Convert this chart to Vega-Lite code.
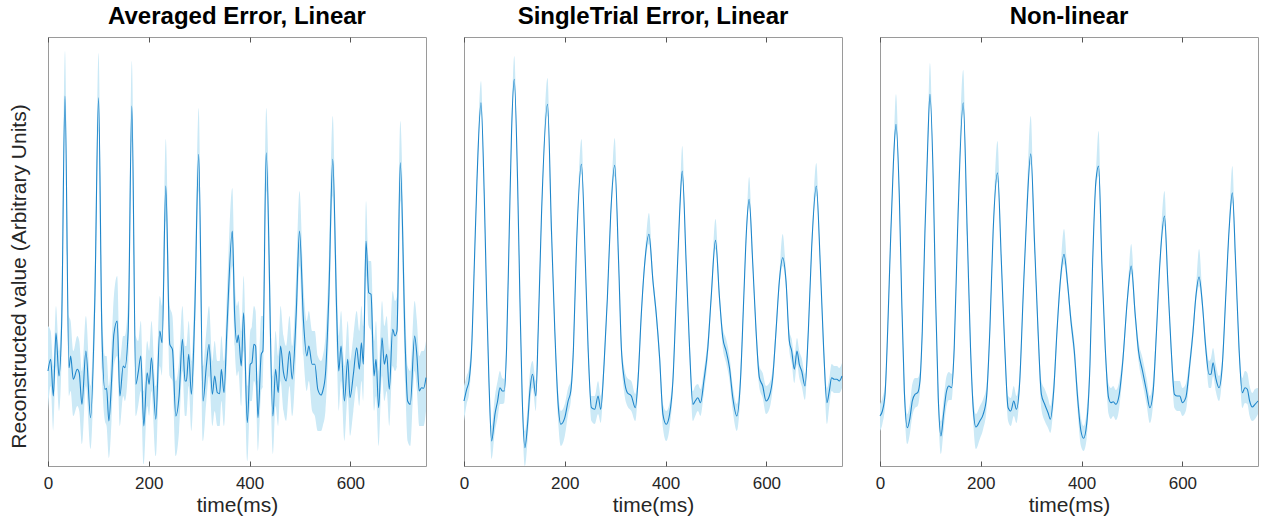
{
"$schema":"https://vega.github.io/schema/vega-lite/v6.json",
"background":"white",
"padding":{"left":7,"top":4,"right":0,"bottom":0},
"bounds":"flush",
"spacing":38,
"config":{"font":"Liberation Sans","view":{"stroke":"#9a9a9a","strokeWidth":1},
"title":{"fontSize":24,"fontWeight":"bold","color":"#000000","offset":8,"anchor":"middle"}},
"datasets":{
"p1":[
{"t":0,"y":95,"lo":55,"hi":140},{"t":5.3,"y":106.7,"lo":80,"hi":135},{"t":10.6,"y":70,"lo":35,"hi":100},{"t":15.8,"y":133,"lo":100,"hi":160},{"t":21.8,"y":90,"lo":55,"hi":115},{"t":27.1,"y":141.7,"lo":110,"hi":175},{"t":33.7,"y":370,"lo":340,"hi":415},{"t":41.6,"y":98.3,"lo":70,"hi":150},{"t":44.9,"y":110,"lo":75,"hi":145},{"t":50.2,"y":86.7,"lo":50,"hi":115},{"t":58.1,"y":96.7,"lo":60,"hi":130},{"t":62,"y":93,"lo":55,"hi":125},{"t":67.3,"y":61.7,"lo":22,"hi":95},{"t":75.2,"y":115,"lo":80,"hi":150},{"t":84.5,"y":48.3,"lo":17,"hi":80},{"t":93,"y":168,"lo":135,"hi":200},{"t":100.3,"y":368.3,"lo":335,"hi":413},{"t":106.9,"y":135,"lo":95,"hi":165},{"t":112.9,"y":76.7,"lo":45,"hi":110},{"t":116.2,"y":77.7,"lo":40,"hi":110},{"t":120.8,"y":45,"lo":8,"hi":80},{"t":126.1,"y":85,"lo":45,"hi":120},{"t":130.7,"y":131.7,"lo":100,"hi":170},{"t":137.3,"y":145,"lo":110,"hi":190},{"t":142.6,"y":70,"lo":40,"hi":105},{"t":149.2,"y":100,"lo":70,"hi":130},{"t":152.5,"y":98.3,"lo":65,"hi":130},{"t":159.1,"y":135,"lo":100,"hi":170},{"t":166.3,"y":360,"lo":325,"hi":405},{"t":174.3,"y":81.7,"lo":50,"hi":130},{"t":178.9,"y":93.3,"lo":60,"hi":125},{"t":184.2,"y":110,"lo":75,"hi":145},{"t":190.1,"y":40,"lo":2,"hi":75},{"t":196.7,"y":93.3,"lo":60,"hi":125},{"t":200.7,"y":81.7,"lo":50,"hi":115},{"t":205.3,"y":108.3,"lo":75,"hi":145},{"t":213.9,"y":46.7,"lo":10,"hi":80},{"t":221.8,"y":135,"lo":100,"hi":170},{"t":226.4,"y":123.3,"lo":90,"hi":160},{"t":233.7,"y":280,"lo":245,"hi":327},{"t":241.6,"y":121.7,"lo":90,"hi":160},{"t":246.9,"y":116.7,"lo":85,"hi":150},{"t":253.5,"y":50,"lo":10,"hi":85},{"t":260.1,"y":70,"lo":35,"hi":105},{"t":266.7,"y":126.7,"lo":95,"hi":160},{"t":271.9,"y":85,"lo":50,"hi":120},{"t":274.6,"y":85,"lo":50,"hi":120},{"t":279.2,"y":111.7,"lo":80,"hi":145},{"t":284.5,"y":71.7,"lo":35,"hi":105},{"t":291.1,"y":151.7,"lo":115,"hi":185},{"t":299,"y":311.7,"lo":275,"hi":358},{"t":307.6,"y":65,"lo":25,"hi":100},{"t":314.2,"y":100,"lo":65,"hi":135},{"t":319.5,"y":121.7,"lo":90,"hi":160},{"t":326.1,"y":71.7,"lo":40,"hi":105},{"t":330.7,"y":90,"lo":55,"hi":125},{"t":336,"y":73.3,"lo":40,"hi":105},{"t":340.6,"y":72.3,"lo":40,"hi":105},{"t":343.9,"y":96.7,"lo":65,"hi":130},{"t":349.2,"y":73.3,"lo":40,"hi":105},{"t":355.1,"y":138.3,"lo":105,"hi":175},{"t":365.7,"y":235,"lo":200,"hi":278},{"t":370.3,"y":151.7,"lo":120,"hi":190},{"t":374.9,"y":123.3,"lo":90,"hi":160},{"t":377.6,"y":131,"lo":95,"hi":165},{"t":383.5,"y":100,"lo":60,"hi":135},{"t":388.1,"y":153.3,"lo":115,"hi":190},{"t":395.4,"y":43.3,"lo":5,"hi":80},{"t":401.3,"y":101.7,"lo":65,"hi":135},{"t":404.6,"y":103.3,"lo":65,"hi":140},{"t":408.6,"y":121.7,"lo":85,"hi":160},{"t":411.9,"y":120,"lo":80,"hi":155},{"t":416.5,"y":48.3,"lo":15,"hi":85},{"t":423.1,"y":111.7,"lo":75,"hi":150},{"t":426.4,"y":115,"lo":80,"hi":150},{"t":433,"y":313.3,"lo":275,"hi":358},{"t":446.2,"y":50,"lo":12,"hi":90},{"t":451.5,"y":96.7,"lo":60,"hi":135},{"t":456.8,"y":73.3,"lo":40,"hi":110},{"t":461.4,"y":120,"lo":85,"hi":160},{"t":467.3,"y":93.3,"lo":55,"hi":130},{"t":472.6,"y":85,"lo":45,"hi":120},{"t":479.2,"y":115,"lo":80,"hi":150},{"t":484.5,"y":86.7,"lo":50,"hi":120},{"t":492.4,"y":151.7,"lo":115,"hi":190},{"t":499,"y":235,"lo":200,"hi":275},{"t":506.9,"y":145,"lo":110,"hi":180},{"t":513.5,"y":110,"lo":75,"hi":145},{"t":517.5,"y":120,"lo":85,"hi":155},{"t":524.1,"y":101.7,"lo":55,"hi":135},{"t":529.4,"y":101.7,"lo":50,"hi":135},{"t":535.3,"y":76.7,"lo":35,"hi":110},{"t":541.9,"y":71,"lo":35,"hi":105},{"t":545.2,"y":75,"lo":40,"hi":110},{"t":550.5,"y":91.7,"lo":55,"hi":130},{"t":557.1,"y":168.3,"lo":130,"hi":205},{"t":565,"y":306.7,"lo":270,"hi":350},{"t":572.9,"y":151.7,"lo":115,"hi":190},{"t":576.9,"y":95,"lo":55,"hi":130},{"t":581.5,"y":120,"lo":85,"hi":155},{"t":588.1,"y":65,"lo":25,"hi":100},{"t":594.7,"y":106.7,"lo":70,"hi":145},{"t":599.3,"y":68.3,"lo":30,"hi":105},{"t":605.9,"y":91.7,"lo":55,"hi":130},{"t":612.5,"y":118.3,"lo":80,"hi":155},{"t":617.8,"y":96.7,"lo":60,"hi":135},{"t":621.8,"y":123.3,"lo":85,"hi":160},{"t":625.7,"y":101.7,"lo":65,"hi":140},{"t":631,"y":225,"lo":190,"hi":265},{"t":636.3,"y":173.3,"lo":140,"hi":205},{"t":640.9,"y":171.7,"lo":135,"hi":205},{"t":646.9,"y":90,"lo":55,"hi":125},{"t":650.8,"y":106.7,"lo":70,"hi":145},{"t":656.1,"y":58.3,"lo":20,"hi":95},{"t":662.7,"y":128.3,"lo":90,"hi":165},{"t":667.3,"y":101.7,"lo":65,"hi":140},{"t":672,"y":111.7,"lo":75,"hi":150},{"t":677.2,"y":76.7,"lo":40,"hi":115},{"t":683.8,"y":136.7,"lo":100,"hi":175},{"t":688.5,"y":130,"lo":95,"hi":165},{"t":692.4,"y":135,"lo":100,"hi":170},{"t":699,"y":303.3,"lo":265,"hi":345},{"t":708.9,"y":118.3,"lo":80,"hi":155},{"t":713.5,"y":65,"lo":25,"hi":100},{"t":718.8,"y":61.7,"lo":20,"hi":95},{"t":727.4,"y":130,"lo":95,"hi":165},{"t":732,"y":110,"lo":75,"hi":145},{"t":736.6,"y":75,"lo":40,"hi":110},{"t":741.3,"y":78.3,"lo":40,"hi":115},{"t":745.2,"y":77.7,"lo":40,"hi":115},{"t":750,"y":88.3,"lo":55,"hi":125}
],
"p2":[
{"t":0,"y":65,"lo":45,"hi":80},{"t":5.3,"y":76.7,"lo":62,"hi":90},{"t":9.9,"y":85,"lo":72,"hi":98},{"t":15.2,"y":118.3,"lo":108,"hi":128},{"t":20.5,"y":201.7,"lo":195,"hi":208},{"t":25.7,"y":285,"lo":279,"hi":291},{"t":33.7,"y":363.3,"lo":352,"hi":385},{"t":40.3,"y":268.3,"lo":262,"hi":275},{"t":44.9,"y":168.3,"lo":162,"hi":175},{"t":49.5,"y":85,"lo":75,"hi":95},{"t":54.8,"y":25,"lo":7,"hi":40},{"t":61.4,"y":51.7,"lo":35,"hi":70},{"t":66.7,"y":65,"lo":48,"hi":85},{"t":71.3,"y":78.3,"lo":62,"hi":95},{"t":75.9,"y":75,"lo":62,"hi":88},{"t":79.9,"y":75,"lo":63,"hi":87},{"t":84.5,"y":118.3,"lo":110,"hi":127},{"t":89.8,"y":235,"lo":229,"hi":241},{"t":94.4,"y":335,"lo":328,"hi":342},{"t":99.7,"y":386.7,"lo":376,"hi":410},{"t":106.3,"y":285,"lo":278,"hi":292},{"t":110.9,"y":168.3,"lo":161,"hi":175},{"t":115.5,"y":68.3,"lo":55,"hi":80},{"t":120.8,"y":18.3,"lo":0,"hi":35},{"t":126.1,"y":41.7,"lo":25,"hi":58},{"t":130.7,"y":75,"lo":60,"hi":93},{"t":136,"y":91.7,"lo":78,"hi":105},{"t":142.6,"y":70,"lo":55,"hi":85},{"t":147.2,"y":135,"lo":127,"hi":143},{"t":153.8,"y":251.7,"lo":245,"hi":258},{"t":165.7,"y":361.7,"lo":350,"hi":388},{"t":173.6,"y":235,"lo":228,"hi":242},{"t":180.2,"y":135,"lo":127,"hi":143},{"t":186.8,"y":61.7,"lo":45,"hi":75},{"t":192.1,"y":41.7,"lo":20,"hi":55},{"t":200,"y":48.3,"lo":30,"hi":62},{"t":206.6,"y":65,"lo":52,"hi":78},{"t":211.9,"y":75,"lo":65,"hi":86},{"t":217.2,"y":118.3,"lo":110,"hi":127},{"t":223.1,"y":218.3,"lo":212,"hi":225},{"t":233,"y":301.7,"lo":292,"hi":327},{"t":240.9,"y":201.7,"lo":195,"hi":208},{"t":246.2,"y":118.3,"lo":110,"hi":126},{"t":252.8,"y":58.3,"lo":45,"hi":70},{"t":259.4,"y":56.7,"lo":42,"hi":70},{"t":266,"y":70,"lo":52,"hi":85},{"t":271.3,"y":56.7,"lo":43,"hi":70},{"t":277.9,"y":101.7,"lo":92,"hi":110},{"t":284.5,"y":168.3,"lo":161,"hi":175},{"t":291.1,"y":251.7,"lo":245,"hi":258},{"t":299,"y":300.7,"lo":290,"hi":328},{"t":306.9,"y":201.7,"lo":195,"hi":208},{"t":312.2,"y":118.3,"lo":108,"hi":128},{"t":317.5,"y":88.3,"lo":75,"hi":100},{"t":324.1,"y":73.3,"lo":60,"hi":88},{"t":332,"y":70,"lo":55,"hi":85},{"t":339.9,"y":58.3,"lo":45,"hi":72},{"t":345.2,"y":85,"lo":75,"hi":95},{"t":351.8,"y":151.7,"lo":144,"hi":159},{"t":358.4,"y":201.7,"lo":195,"hi":208},{"t":367,"y":231.7,"lo":222,"hi":253},{"t":374.9,"y":185,"lo":178,"hi":192},{"t":381.5,"y":151.7,"lo":144,"hi":159},{"t":388.1,"y":108.3,"lo":98,"hi":118},{"t":394.7,"y":51.7,"lo":38,"hi":62},{"t":401.3,"y":41.7,"lo":25,"hi":55},{"t":407.9,"y":51.7,"lo":38,"hi":63},{"t":414.5,"y":85,"lo":75,"hi":95},{"t":421.1,"y":168.3,"lo":161,"hi":175},{"t":427.7,"y":251.7,"lo":245,"hi":258},{"t":433,"y":295,"lo":285,"hi":320},{"t":440.9,"y":201.7,"lo":195,"hi":208},{"t":447.5,"y":118.3,"lo":110,"hi":126},{"t":454.1,"y":61.7,"lo":45,"hi":75},{"t":458.8,"y":65,"lo":50,"hi":80},{"t":464,"y":68.3,"lo":55,"hi":82},{"t":469.3,"y":63.3,"lo":50,"hi":77},{"t":475.9,"y":85,"lo":73,"hi":96},{"t":483.8,"y":118.3,"lo":108,"hi":128},{"t":490.4,"y":168.3,"lo":161,"hi":175},{"t":499,"y":225.7,"lo":217,"hi":247},{"t":506.9,"y":168.3,"lo":161,"hi":175},{"t":513.5,"y":128.3,"lo":118,"hi":138},{"t":520.1,"y":115,"lo":103,"hi":127},{"t":526.7,"y":98.3,"lo":86,"hi":110},{"t":533.3,"y":68.3,"lo":55,"hi":80},{"t":541.3,"y":50,"lo":35,"hi":62},{"t":548.5,"y":85,"lo":72,"hi":97},{"t":555.1,"y":168.3,"lo":161,"hi":175},{"t":560.4,"y":235,"lo":229,"hi":241},{"t":565.7,"y":266.7,"lo":258,"hi":289},{"t":573,"y":201.7,"lo":195,"hi":208},{"t":579.5,"y":135,"lo":127,"hi":143},{"t":586.1,"y":88.3,"lo":78,"hi":100},{"t":592.7,"y":80,"lo":68,"hi":93},{"t":599.3,"y":65,"lo":52,"hi":80},{"t":605.9,"y":70,"lo":57,"hi":83},{"t":612.5,"y":88.3,"lo":78,"hi":98},{"t":619.1,"y":135,"lo":127,"hi":143},{"t":625.7,"y":185,"lo":178,"hi":192},{"t":632.3,"y":208.3,"lo":200,"hi":232},{"t":638.9,"y":185,"lo":177,"hi":193},{"t":645.5,"y":125,"lo":115,"hi":135},{"t":650.2,"y":115,"lo":103,"hi":127},{"t":655.4,"y":96.7,"lo":83,"hi":110},{"t":660.7,"y":115,"lo":102,"hi":128},{"t":665.3,"y":101.7,"lo":88,"hi":115},{"t":670,"y":95,"lo":80,"hi":108},{"t":676.6,"y":80,"lo":66,"hi":92},{"t":683.2,"y":135,"lo":127,"hi":143},{"t":689.8,"y":218.3,"lo":212,"hi":225},{"t":699,"y":280,"lo":270,"hi":303},{"t":706.9,"y":201.7,"lo":195,"hi":208},{"t":713.5,"y":118.3,"lo":108,"hi":128},{"t":720.1,"y":63.3,"lo":42,"hi":78},{"t":724.8,"y":75,"lo":60,"hi":88},{"t":729.4,"y":88.3,"lo":75,"hi":102},{"t":734.7,"y":86.7,"lo":73,"hi":100},{"t":739.9,"y":86.7,"lo":73,"hi":100},{"t":744.6,"y":85,"lo":73,"hi":98},{"t":750,"y":90,"lo":78,"hi":103}
],
"p3":[
{"t":0,"y":50,"lo":35,"hi":62},{"t":4.7,"y":55,"lo":42,"hi":68},{"t":10,"y":71.7,"lo":60,"hi":82},{"t":15.2,"y":135,"lo":128,"hi":142},{"t":20.5,"y":218.3,"lo":212,"hi":225},{"t":26.5,"y":301.7,"lo":295,"hi":308},{"t":31.7,"y":341.7,"lo":332,"hi":372},{"t":38.4,"y":268.3,"lo":262,"hi":275},{"t":43,"y":168.3,"lo":161,"hi":175},{"t":48.3,"y":75,"lo":63,"hi":87},{"t":54.2,"y":38.3,"lo":22,"hi":52},{"t":59.5,"y":48.3,"lo":33,"hi":63},{"t":64.1,"y":65,"lo":50,"hi":82},{"t":69.4,"y":71.7,"lo":58,"hi":88},{"t":74.7,"y":73.3,"lo":60,"hi":88},{"t":79.3,"y":85,"lo":75,"hi":95},{"t":83.9,"y":135,"lo":128,"hi":142},{"t":89.2,"y":235,"lo":229,"hi":241},{"t":94.5,"y":318.3,"lo":312,"hi":325},{"t":99.1,"y":371.7,"lo":362,"hi":403},{"t":105.7,"y":285,"lo":278,"hi":292},{"t":110.3,"y":168.3,"lo":161,"hi":175},{"t":115.6,"y":68.3,"lo":55,"hi":80},{"t":120.9,"y":30,"lo":12,"hi":45},{"t":126.1,"y":51.7,"lo":35,"hi":66},{"t":132.1,"y":75,"lo":60,"hi":90},{"t":136.7,"y":80,"lo":66,"hi":94},{"t":142,"y":78.3,"lo":66,"hi":92},{"t":147.3,"y":118.3,"lo":110,"hi":127},{"t":153.9,"y":235,"lo":229,"hi":241},{"t":165.1,"y":363.3,"lo":352,"hi":396},{"t":173,"y":235,"lo":228,"hi":242},{"t":179.6,"y":118.3,"lo":110,"hi":126},{"t":184.9,"y":58.3,"lo":45,"hi":70},{"t":190.2,"y":39,"lo":17,"hi":52},{"t":198.1,"y":45,"lo":27,"hi":60},{"t":204.7,"y":51.7,"lo":37,"hi":67},{"t":211.3,"y":68.3,"lo":56,"hi":80},{"t":217.9,"y":135,"lo":128,"hi":142},{"t":224.5,"y":235,"lo":229,"hi":241},{"t":233.1,"y":293.3,"lo":284,"hi":325},{"t":241,"y":201.7,"lo":195,"hi":208},{"t":247.6,"y":118.3,"lo":110,"hi":126},{"t":254.2,"y":58.3,"lo":45,"hi":70},{"t":259.5,"y":55,"lo":40,"hi":68},{"t":265.4,"y":65,"lo":50,"hi":80},{"t":270.7,"y":56.7,"lo":43,"hi":70},{"t":277.3,"y":85,"lo":75,"hi":95},{"t":283.9,"y":168.3,"lo":161,"hi":175},{"t":291.1,"y":251.7,"lo":245,"hi":258},{"t":299.1,"y":312.3,"lo":302,"hi":350},{"t":307,"y":218.3,"lo":211,"hi":225},{"t":313.6,"y":135,"lo":125,"hi":145},{"t":320.2,"y":71.7,"lo":57,"hi":85},{"t":326.8,"y":61.7,"lo":45,"hi":77},{"t":333.4,"y":53.3,"lo":38,"hi":68},{"t":338,"y":46.7,"lo":33,"hi":60},{"t":344.6,"y":75,"lo":63,"hi":87},{"t":351.2,"y":135,"lo":127,"hi":143},{"t":357.8,"y":185,"lo":177,"hi":193},{"t":365.1,"y":211.7,"lo":202,"hi":237},{"t":372.3,"y":181.7,"lo":174,"hi":189},{"t":378.9,"y":145,"lo":137,"hi":153},{"t":385.5,"y":115,"lo":105,"hi":125},{"t":392.1,"y":68.3,"lo":55,"hi":80},{"t":398.7,"y":35,"lo":20,"hi":48},{"t":404,"y":27.7,"lo":15,"hi":40},{"t":410,"y":41.7,"lo":27,"hi":55},{"t":416.6,"y":101.7,"lo":92,"hi":110},{"t":421.8,"y":201.7,"lo":195,"hi":208},{"t":428.4,"y":285,"lo":278,"hi":292},{"t":433.7,"y":300,"lo":290,"hi":335},{"t":440.3,"y":201.7,"lo":195,"hi":208},{"t":446.9,"y":118.3,"lo":110,"hi":126},{"t":453.5,"y":68.3,"lo":52,"hi":82},{"t":458.2,"y":63.3,"lo":47,"hi":78},{"t":462.8,"y":64.3,"lo":50,"hi":80},{"t":468,"y":61.7,"lo":46,"hi":76},{"t":474.7,"y":71.7,"lo":58,"hi":85},{"t":481.2,"y":101.7,"lo":92,"hi":110},{"t":491.1,"y":168.3,"lo":161,"hi":175},{"t":498.4,"y":200,"lo":192,"hi":222},{"t":506.3,"y":151.7,"lo":144,"hi":159},{"t":512.9,"y":115,"lo":105,"hi":125},{"t":520.9,"y":95,"lo":83,"hi":108},{"t":528.8,"y":75,"lo":62,"hi":88},{"t":535.4,"y":58.3,"lo":43,"hi":70},{"t":542,"y":75,"lo":63,"hi":88},{"t":548.6,"y":135,"lo":127,"hi":143},{"t":555.2,"y":201.7,"lo":195,"hi":208},{"t":564.4,"y":250,"lo":240,"hi":275},{"t":571,"y":185,"lo":178,"hi":192},{"t":577.6,"y":118.3,"lo":110,"hi":126},{"t":584.2,"y":71.7,"lo":58,"hi":85},{"t":590.2,"y":70,"lo":55,"hi":85},{"t":594.8,"y":70,"lo":55,"hi":85},{"t":600.1,"y":63.3,"lo":50,"hi":78},{"t":606.7,"y":68.3,"lo":55,"hi":82},{"t":614.6,"y":101.7,"lo":92,"hi":110},{"t":621.2,"y":135,"lo":127,"hi":143},{"t":626.5,"y":168.3,"lo":161,"hi":175},{"t":633.1,"y":189,"lo":180,"hi":217},{"t":639.7,"y":161.7,"lo":154,"hi":169},{"t":646.3,"y":118.3,"lo":110,"hi":127},{"t":652.9,"y":91.7,"lo":78,"hi":105},{"t":656.8,"y":91.7,"lo":78,"hi":108},{"t":660.8,"y":103.3,"lo":90,"hi":118},{"t":666.1,"y":88.3,"lo":75,"hi":102},{"t":672.7,"y":78.3,"lo":65,"hi":90},{"t":679.3,"y":101.7,"lo":92,"hi":110},{"t":685.9,"y":168.3,"lo":161,"hi":175},{"t":692.5,"y":235,"lo":229,"hi":241},{"t":699.1,"y":273.3,"lo":263,"hi":300},{"t":705.7,"y":201.7,"lo":195,"hi":208},{"t":712.3,"y":118.3,"lo":110,"hi":126},{"t":718.9,"y":73.3,"lo":58,"hi":88},{"t":724.2,"y":78.3,"lo":63,"hi":95},{"t":728.8,"y":76.7,"lo":62,"hi":93},{"t":733.4,"y":65,"lo":50,"hi":80},{"t":738.7,"y":59,"lo":45,"hi":73},{"t":744,"y":61.7,"lo":47,"hi":77},{"t":750,"y":65,"lo":52,"hi":78}
]},
"hconcat":[
{"width":378,"height":429,"title":"Averaged Error, Linear","data":{"name":"p1"},
"layer":[
{"mark":{"type":"area","color":"#cbe9f6","opacity":1,"interpolate":"monotone"},
"encoding":{"x":{"field":"t","type":"quantitative","scale":{"domain":[0,750],"nice":false},"axis":{"orient":"bottom","values":[0,200,400,600],"domain":false,"grid":false,"tickSize":-5,"tickColor":"#555555","labelFontSize":17,"labelColor":"#262626","labelPadding":14,"labelFlush":false,"title":"time(ms)","titleFontSize":21,"titleFontWeight":"normal","titleColor":"#262626","titlePadding":3}},
"y":{"field":"lo","type":"quantitative","scale":{"domain":[0,429],"nice":false},"axis":{"title":"Reconstructed value (Arbitrary Units)","ticks":false,"labels":false,"domain":false,"grid":false,"titleFontSize":21,"titleFontWeight":"normal","titleColor":"#262626","titlePadding":19,"titleY":239}},
"y2":{"field":"hi"}}},
{"mark":{"type":"line","color":"#1f86cb","strokeWidth":1.1,"interpolate":"monotone"},
"encoding":{"x":{"field":"t","type":"quantitative","axis":{"orient":"top","values":[0,200,400,600],"labels":false,"domain":false,"grid":false,"tickSize":-5,"tickColor":"#555555","title":null}},
"y":{"field":"y","type":"quantitative"}}}
],
"resolve":{"axis":{"x":"independent"}}},
{"width":378,"height":429,"title":"SingleTrial Error, Linear","data":{"name":"p2"},
"layer":[
{"mark":{"type":"area","color":"#cbe9f6","opacity":1,"interpolate":"monotone"},
"encoding":{"x":{"field":"t","type":"quantitative","scale":{"domain":[0,750],"nice":false},"axis":{"orient":"bottom","values":[0,200,400,600],"domain":false,"grid":false,"tickSize":-5,"tickColor":"#555555","labelFontSize":17,"labelColor":"#262626","labelPadding":14,"labelFlush":false,"title":"time(ms)","titleFontSize":21,"titleFontWeight":"normal","titleColor":"#262626","titlePadding":3}},
"y":{"field":"lo","type":"quantitative","scale":{"domain":[0,429],"nice":false},"axis":null},
"y2":{"field":"hi"}}},
{"mark":{"type":"line","color":"#1f86cb","strokeWidth":1.1,"interpolate":"monotone"},
"encoding":{"x":{"field":"t","type":"quantitative","axis":{"orient":"top","values":[0,200,400,600],"labels":false,"domain":false,"grid":false,"tickSize":-5,"tickColor":"#555555","title":null}},
"y":{"field":"y","type":"quantitative","axis":null}}}
],
"resolve":{"axis":{"x":"independent"}}},
{"width":378,"height":429,"title":"Non-linear","data":{"name":"p3"},
"layer":[
{"mark":{"type":"area","color":"#cbe9f6","opacity":1,"interpolate":"monotone"},
"encoding":{"x":{"field":"t","type":"quantitative","scale":{"domain":[0,750],"nice":false},"axis":{"orient":"bottom","values":[0,200,400,600],"domain":false,"grid":false,"tickSize":-5,"tickColor":"#555555","labelFontSize":17,"labelColor":"#262626","labelPadding":14,"labelFlush":false,"title":"time(ms)","titleFontSize":21,"titleFontWeight":"normal","titleColor":"#262626","titlePadding":3}},
"y":{"field":"lo","type":"quantitative","scale":{"domain":[0,429],"nice":false},"axis":null},
"y2":{"field":"hi"}}},
{"mark":{"type":"line","color":"#1f86cb","strokeWidth":1.1,"interpolate":"monotone"},
"encoding":{"x":{"field":"t","type":"quantitative","axis":{"orient":"top","values":[0,200,400,600],"labels":false,"domain":false,"grid":false,"tickSize":-5,"tickColor":"#555555","title":null}},
"y":{"field":"y","type":"quantitative","axis":null}}}
],
"resolve":{"axis":{"x":"independent"}}}
]
}
